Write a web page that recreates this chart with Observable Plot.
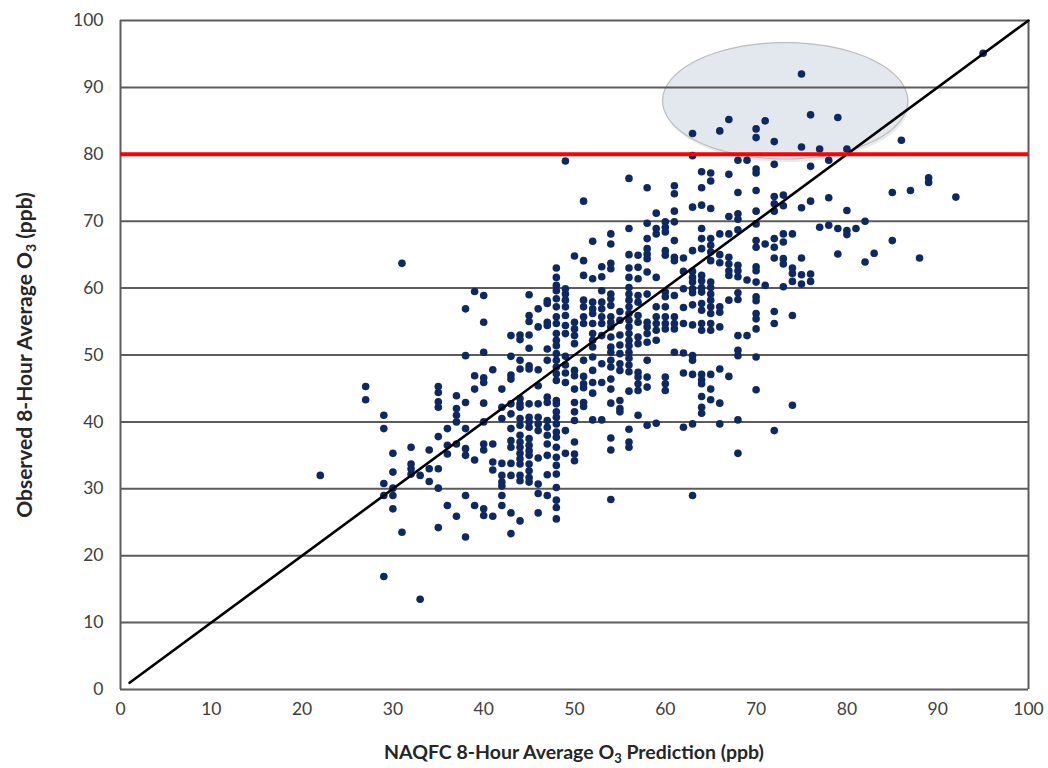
<!DOCTYPE html>
<html><head><meta charset="utf-8">
<script src="https://cdn.jsdelivr.net/npm/d3@7"></script>
<script src="https://cdn.jsdelivr.net/npm/@observablehq/plot@0.6"></script>
<style>
html,body{margin:0;padding:0;background:#fff;}
#chart{width:1048px;height:768px;overflow:hidden;}
</style></head><body><div id="chart"></div>
<script>
// ---- data ----
const xTicks = [0, 10, 20, 30, 40, 50, 60, 70, 80, 90, 100];
const yTicks = [0, 10, 20, 30, 40, 50, 60, 70, 80, 90, 100];
const gridLevels = [10, 20, 30, 40, 50, 60, 70, 80, 90, 100];
const exceedanceLevel = [80];
const oneToOne = [1, 100];
const highlightCenter = [73.2, 88];
const highlightRadii = [13.5, 8.7];

const predictedX = [22, 27, 29, 30, 31, 32, 33, 34, 35, 36, 37, 38, 39, 40, 41, 42, 43, 44, 45, 46, 47, 48, 49, 50,
  51, 52, 53, 54, 55, 56, 57, 58, 59, 60, 61, 62, 63, 64, 65, 66, 67, 68, 69, 70, 71, 72, 73, 74, 75, 76, 77, 78,
  79, 80, 81, 82, 83, 85, 86, 87, 88, 89, 92, 95];
const observedY = [
  [32],
  [45.3, 43.3],
  [41, 39, 30.8, 29, 16.9],
  [35.3, 32.5, 30.1, 29, 27],
  [63.7, 23.5],
  [36.2, 33.7, 33, 32.2],
  [32, 13.5],
  [35.8, 33, 31.1],
  [45.3, 44.4, 43, 42.2, 37.8, 33, 30.1, 24.2],
  [39, 36.5, 35.2, 27.5],
  [43.9, 42, 41, 40, 36.7, 25.9],
  [56.9, 49.9, 42.9, 39, 36, 35, 29, 22.8],
  [59.5, 46.9, 44.9, 34.3, 27.5],
  [58.9, 54.9, 50.4, 46.6, 45.9, 42.8, 40, 36.7, 35.8, 27, 26],
  [47.8, 36.7, 34, 32.8, 25.9],
  [44.9, 42.2, 40.5, 33.8, 32, 31, 30.4, 29, 27.5],
  [52.9, 49.8, 47, 46.4, 42.7, 41.2, 39, 37.2, 36.2, 33.8, 32, 26.4, 23.3],
  [53, 52.3, 49.2, 47.9, 43.5, 42.7, 42.2, 40.5, 39.5, 38, 37, 36.2, 35.3, 34.5, 33.7, 32, 31.2, 25.2],
  [59, 55.9, 55, 53, 51, 48.4, 47.9, 42.7, 40.7, 40, 39.2, 37.5, 36.5, 35.7, 35, 33.7, 32.7, 31.7, 31],
  [56.9, 54.2, 47.8, 45.4, 42.7, 40.7, 39.7, 38.7, 34.6, 30.7, 29.3, 26.4],
  [58.1, 57.7, 54.9, 54.4, 50.9, 49.2, 43.7, 42.9, 40.2, 39.2, 38, 36.7, 35, 32.1, 29],
  [63, 61.6, 60.4, 59.6, 58.4, 57.2, 55.7, 54.7, 53.2, 52.2, 51.4, 50.2, 49.2, 48.2, 47.2, 46.2, 43.2, 42.7, 41.5,
   40.7, 39.7, 38.5, 37.7, 36.2, 34.7, 33.5, 32.2, 30.2, 28.3, 27.2, 25.5],
  [79, 59.9, 59.1, 58.2, 57.2, 55.9, 54.4, 53.2, 49.8, 48.5, 47.3, 45.9, 38.7, 35.3],
  [64.8, 54.9, 53.9, 52.9, 51.7, 47.7, 46.9, 44.9, 42.9, 41.5, 40.2, 37, 35.2, 34.2],
  [73, 64.1, 61.9, 58.2, 57.2, 55.7, 54.7, 49.2, 46.8, 45.7, 45.1, 42.9, 42.3],
  [67, 61.4, 57.9, 56.9, 56.2, 54.7, 53.2, 52.2, 51.2, 49.7, 47.7, 45.9, 44.3, 40.3],
  [63.2, 61.7, 59.6, 57.9, 56.9, 55.7, 54.7, 52.9, 48.7, 45.9, 40.3],
  [68.1, 66.6, 63.7, 62.9, 59.1, 58.4, 57.4, 55.7, 54.9, 54.2, 52.7, 51.2, 50.4, 49.2, 48.2, 46.4, 44.9, 42.8, 37.6, 35.8, 28.4],
  [56.5, 55.2, 53, 51.5, 50.2, 48.7, 47.7, 43.2, 42, 41.5],
  [76.4, 68.9, 65, 63, 61.6, 60.1, 59.1, 58.2, 57.2, 56.2, 55.2, 54.2, 53.2, 52.2, 51.4, 50.4, 49.5, 48.5, 47.5, 44.6, 38.9, 37, 36.2],
  [64.9, 63.1, 61.4, 58.9, 57.9, 55.9, 54.9, 52.7, 51.7, 47.4, 46.7, 45.7, 44.7, 41],
  [75, 69.7, 67.4, 65.9, 65.1, 64.4, 62.4, 59.1, 54.9, 54.2, 53.2, 51.9, 49.2, 46.7, 45.2, 39.5],
  [71.2, 68.9, 68.1, 61.6, 57.2, 55.7, 54.7, 53.7, 52.2, 39.8],
  [69.9, 69.1, 68.4, 65.6, 64.9, 59.4, 58.7, 57.2, 55.7, 54.7, 53.9, 46.7, 45.7, 44.7],
  [75.3, 74.1, 71.5, 69.9, 67.1, 64.6, 64.1, 58.9, 55.7, 54.7, 53.9, 50.4],
  [64.5, 62.5, 59.9, 57.1, 54.7, 50.3, 47.3, 39.2],
  [83.1, 79.8, 72.1, 65.6, 62.5, 61.6, 60.9, 59.9, 59.3, 57.5, 54.5, 49.9, 49.2, 47.1, 39.7, 29],
  [77.4, 75, 72.4, 68.9, 67.4, 65.9, 61.9, 61.1, 60.1, 59.4, 57.7, 56.7, 54.7, 53.7, 47.1, 46.3, 45.7, 43.8, 42.2, 41.3],
  [77.2, 76, 71.9, 67.4, 66.4, 65.4, 64.1, 60.9, 60.1, 59.1, 58.2, 57.2, 56.2, 54.7, 53.7, 47.1, 44.9, 43.3],
  [83.5, 68.1, 65, 63.8, 57.2, 56.4, 54.2, 47.9, 42.8, 39.7],
  [85.2, 77, 70.7, 68.1, 64.6, 63.6, 62.6, 61.9, 58.2, 46.8],
  [79.1, 74.3, 71.1, 70.3, 68.7, 63.4, 62.6, 61.7, 59.3, 58.3, 52.9, 50.7, 49.9, 40.3, 35.3],
  [79.1, 61.2, 52.9],
  [83.8, 82.5, 77.8, 77.2, 74.6, 71.5, 69.6, 67.1, 66.1, 63.2, 62.6, 60.9, 58.7, 58.1, 56.2, 55.4, 53.9, 49.7, 44.8],
  [85, 66.6, 60.4],
  [81.9, 78.5, 73.7, 72.6, 71.5, 67.4, 66.1, 64.5, 56.5, 54.7, 38.7],
  [73.9, 72.3, 68.1, 66.9, 64.4, 63.6, 60.2],
  [68.1, 63, 62.2, 61, 55.9, 42.5],
  [92, 81.1, 72, 64.5, 62, 60.6],
  [85.9, 78.2, 73, 62.1, 61],
  [80.8, 69.1],
  [79.1, 73.5, 69.4],
  [85.5, 68.9, 65.1],
  [80.8, 71.6, 68.6, 68],
  [68.9],
  [70, 63.9],
  [65.2],
  [74.3, 67.1],
  [82.1],
  [74.6],
  [64.5],
  [76.5, 75.8],
  [73.6],
  [95.1]
];

const xTitle = ["NAQFC 8-Hour Average O", "3", " Prediction (ppb)"];
const yTitle = ["Observed 8-Hour Average O", "3", " (ppb)"];

// ---- derived tables ----
const points = predictedX.flatMap((x, i) => observedY[i].map(y => ({x, y})));
const diag = oneToOne.map(v => ({x: v, y: v}));
const ellipse = d3.range(0, 361, 3).map(a => ({
  x: highlightCenter[0] + highlightRadii[0] * Math.cos(a * Math.PI / 180),
  y: highlightCenter[1] + highlightRadii[1] * Math.sin(a * Math.PI / 180)
}));
const shadow = ellipse.map(d => ({x: d.x + 0.15, y: d.y - 0.45}));

const plot = Plot.plot({
  width: 1048,
  height: 768,
  marginLeft: 120,
  marginRight: 20,
  marginTop: 20,
  marginBottom: 79,
  style: {fontFamily: "Lato, 'Liberation Sans', sans-serif", fontSize: "17.5px", color: "#404040", background: "#fff"},
  x: {domain: [0, 100], ticks: xTicks, tickSize: 0, tickPadding: 13, label: null},
  y: {domain: [0, 100], ticks: yTicks, tickSize: 0, tickPadding: 17, label: null},
  marks: [
    Plot.line(shadow, {x: "x", y: "y", curve: "linear-closed", fill: "#b8b8b8", fillOpacity: 0.3, stroke: "none"}),
    Plot.line(ellipse, {x: "x", y: "y", curve: "linear-closed", fill: "#e3e7ee", fillOpacity: 1, stroke: "#bdbdbd", strokeWidth: 1.2}),
    Plot.ruleY(gridLevels, {stroke: "#5c5c5c", strokeWidth: 2}),
    Plot.ruleY([0], {stroke: "#5c5c5c", strokeWidth: 2}),
    Plot.ruleX([0, 100], {stroke: "#5c5c5c", strokeWidth: 2}),
    Plot.dot(points, {x: "x", y: "y", r: 3.8, fill: "#0e2862", stroke: "none"}),
    Plot.line(diag, {x: "x", y: "y", stroke: "#000", strokeWidth: 2.6}),
    Plot.ruleY(exceedanceLevel, {stroke: "#ff0000", strokeWidth: 4})
  ]
});

document.getElementById("chart").appendChild(plot);

const svg = d3.select(plot);
function addTitle(parts, transform, size, subSize) {
  const t = svg.append("text")
    .attr("transform", transform)
    .attr("text-anchor", "middle")
    .attr("font-family", "Lato, 'Liberation Sans', sans-serif")
    .attr("font-weight", "bold")
    .attr("font-size", size + "px")
    .attr("fill", "#262626");
  t.append("tspan").text(parts[0]);
  t.append("tspan").attr("dy", 4).attr("font-size", subSize + "px").text(parts[1]);
  t.append("tspan").attr("dy", -4).text(parts[2]);
}
addTitle(xTitle, "translate(574,759)", 19.5, 13);
addTitle(yTitle, "translate(32,355) rotate(-90)", 21, 14);
</script></body></html>
